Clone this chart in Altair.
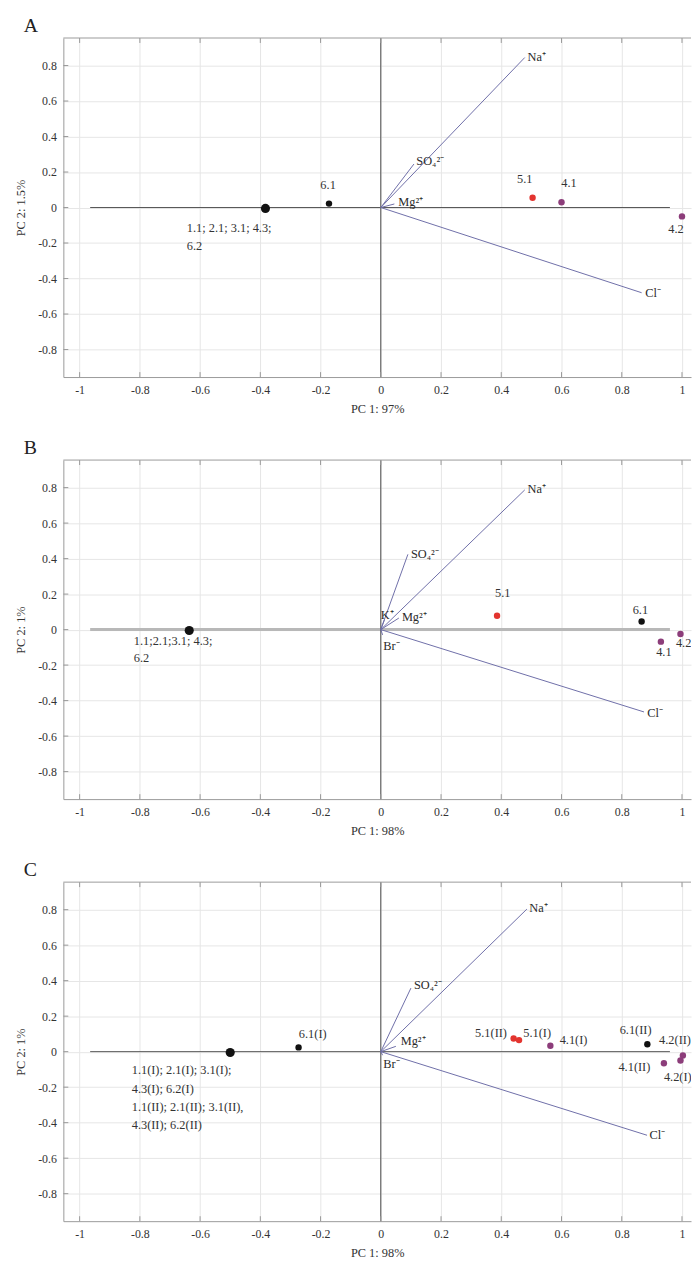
import altair as alt
import pandas as pd

# ---------------- data ----------------
x_ticks = [-1, -0.8, -0.6, -0.4, -0.2, 0, 0.2, 0.4, 0.6, 0.8, 1]
y_ticks = [-0.8, -0.6, -0.4, -0.2, 0, 0.2, 0.4, 0.6, 0.8]

# Panel A
a_pt_x = [-0.383, -0.172, 0.504, 0.600, 1.000]
a_pt_y = [-0.005, 0.022, 0.055, 0.030, -0.050]
a_pt_grp = ["black", "black", "red", "purple", "purple"]
a_pt_big = [True, False, False, False, False]
a_lab_txt = ["6.1", "5.1", "4.1", "4.2", "1.1; 2.1; 3.1; 4.3;", "6.2"]
a_lab_x = [-0.175, 0.478, 0.625, 0.980, -0.644, -0.644]
a_lab_y = [0.124, 0.160, 0.140, -0.120, -0.117, -0.217]
a_lab_al = ["center", "center", "center", "center", "left", "left"]
a_vec_name = ["Na⁺", "SO₄²⁻", "Mg²⁺", "Cl⁻"]
a_vec_x = [0.478, 0.110, 0.045, 0.866]
a_vec_y = [0.845, 0.245, 0.020, -0.480]
a_vlab_x = [0.487, 0.118, 0.058, 0.878]
a_vlab_y = [0.850, 0.262, 0.030, -0.482]

# Panel B
b_pt_x = [-0.636, 0.386, 0.866, 0.930, 0.995]
b_pt_y = [-0.005, 0.078, 0.046, -0.068, -0.025]
b_pt_grp = ["black", "red", "black", "purple", "purple"]
b_pt_big = [True, False, False, False, False]
b_lab_txt = ["5.1", "6.1", "4.1", "4.2", "1.1;2.1;3.1; 4.3;", "6.2"]
b_lab_x = [0.405, 0.862, 0.940, 0.980, -0.820, -0.820]
b_lab_y = [0.205, 0.110, -0.128, -0.076, -0.063, -0.161]
b_lab_al = ["center", "center", "center", "left", "left", "left"]
b_vec_name = ["Na⁺", "SO₄²⁻", "K⁺", "Mg²⁺", "Br⁻", "Cl⁻"]
b_vec_x = [0.478, 0.090, 0.012, 0.060, 0.006, 0.874]
b_vec_y = [0.787, 0.424, 0.055, 0.065, -0.030, -0.464]
b_vlab_x = [0.487, 0.100, 0.000, 0.070, 0.008, 0.885]
b_vlab_y = [0.792, 0.428, 0.080, 0.072, -0.092, -0.468]

# Panel C
c_pt_x = [-0.500, -0.273, 0.441, 0.459, 0.563, 0.885, 0.940, 1.003, 0.995]
c_pt_y = [-0.005, 0.024, 0.074, 0.065, 0.033, 0.042, -0.065, -0.022, -0.050]
c_pt_grp = ["black", "black", "red", "red", "purple", "black", "purple", "purple", "purple"]
c_pt_big = [True, False, False, False, False, False, False, False, False]
c_lab_txt = ["6.1(I)", "5.1(II)", "5.1(I)", "4.1(I)", "6.1(II)", "4.2(II)", "4.1(II)", "4.2(I)",
             "1.1(I); 2.1(I); 3.1(I);", "4.3(I); 6.2(I)",
             "1.1(II); 2.1(II); 3.1(II),", "4.3(II); 6.2(II)"]
c_lab_x = [-0.226, 0.366, 0.519, 0.640, 0.846, 0.924, 0.842, 0.940,
           -0.827, -0.827, -0.827, -0.827]
c_lab_y = [0.098, 0.107, 0.107, 0.068, 0.124, 0.065, -0.087, -0.143,
           -0.106, -0.208, -0.310, -0.412]
c_lab_al = ["center", "center", "center", "center", "center", "left", "center", "left",
            "left", "left", "left", "left"]
c_vec_name = ["Na⁺", "SO₄²⁻", "Mg²⁺", "Br⁻", "Cl⁻"]
c_vec_x = [0.485, 0.100, 0.050, 0.006, 0.884]
c_vec_y = [0.803, 0.358, 0.030, -0.020, -0.471]
c_vlab_x = [0.493, 0.110, 0.066, 0.008, 0.892]
c_vlab_y = [0.808, 0.378, 0.057, -0.070, -0.472]

# zero line extents
hline_x = [-0.965, 0.960]
origin = [0]

# ---------------- styling ----------------
W, H = 635, 343
X_DOMAIN = [-1.054, 1.03]
Y_DOMAIN = [-0.955, 0.955]
FONT = "Liberation Serif"
FRAME = "#9a9a9a"
VEC = "#6e6ea8"
COLORS = {"black": "#111111", "red": "#e3342f", "purple": "#8c3d7a"}


def panel(letter, xtitle, ytitle, pt, lab, vec, vlab, hstyle):
    xs = alt.Scale(domain=X_DOMAIN, nice=False, zero=False)
    ys = alt.Scale(domain=Y_DOMAIN, nice=False, zero=False)
    xax = alt.Axis(values=x_ticks, title=xtitle, grid=True, ticks=False,
                   labelExpr="'' + datum.value", labelPadding=8, titlePadding=7)
    yax = alt.Axis(values=y_ticks, title=ytitle, grid=True, ticks=False,
                   labelExpr="'' + datum.value", labelPadding=7, titlePadding=10)

    def X(f):
        return alt.X(f, scale=xs, axis=xax)

    def Y(f):
        return alt.Y(f, scale=ys, axis=yax)

    hdf = pd.DataFrame({"x": [hline_x[0]], "x2": [hline_x[1]], "y": [0]})
    hl = alt.Chart(hdf).mark_rule(color=hstyle[0], strokeWidth=hstyle[1]).encode(
        x=X("x:Q"), x2="x2:Q", y=Y("y:Q"))
    vl = alt.Chart(pd.DataFrame({"x": origin})).mark_rule(color="#4a4a4a", strokeWidth=1).encode(
        x=X("x:Q"), y=alt.value(0), y2=alt.value(H))
    top = alt.Chart(pd.DataFrame({"x": origin})).mark_rule(color=FRAME, strokeWidth=1).encode(
        x=alt.value(0), x2=alt.value(W), y=alt.value(0))
    tb = alt.Chart(pd.DataFrame({"t": x_ticks})).mark_rule(color=FRAME).encode(
        x=X("t:Q"), y=alt.value(H), y2=alt.value(H - 5))
    tt = alt.Chart(pd.DataFrame({"t": x_ticks})).mark_rule(color=FRAME).encode(
        x=X("t:Q"), y=alt.value(0), y2=alt.value(5))
    tl = alt.Chart(pd.DataFrame({"t": y_ticks})).mark_rule(color=FRAME).encode(
        y=Y("t:Q"), x=alt.value(0), x2=alt.value(5))

    vdf = pd.DataFrame({"x0": [0] * len(vec[0]), "y0": [0] * len(vec[0]),
                        "x": vec[1], "y": vec[2]})
    vr = alt.Chart(vdf).mark_rule(color=VEC, strokeWidth=1).encode(
        x=X("x0:Q"), y=Y("y0:Q"), x2="x:Q", y2="y:Q")
    vldf = pd.DataFrame({"t": vec[0], "x": vlab[0], "y": vlab[1]})
    vt = alt.Chart(vldf).mark_text(font=FONT, fontSize=12.5, color="#2a2a2a", align="left",
                                   baseline="middle", clip=True).encode(
        x=X("x:Q"), y=Y("y:Q"), text="t:N")

    pdf = pd.DataFrame({"x": pt[0], "y": pt[1],
                        "c": [COLORS[g] for g in pt[2]],
                        "s": [85 if b else 42 for b in pt[3]]})
    pts = alt.Chart(pdf).mark_circle(opacity=1).encode(
        x=X("x:Q"), y=Y("y:Q"),
        color=alt.Color("c:N", scale=None), size=alt.Size("s:Q", scale=None))

    ldf = pd.DataFrame({"t": lab[0], "x": lab[1], "y": lab[2], "a": lab[3]})
    texts = []
    for al in ["left", "center"]:
        sub = ldf[ldf["a"] == al]
        if len(sub):
            texts.append(alt.Chart(sub).mark_text(font=FONT, fontSize=12.5, color="#333333",
                                                  align=al, baseline="middle", clip=True).encode(
                x=X("x:Q"), y=Y("y:Q"), text="t:N"))

    return alt.layer(hl, vl, top, tb, tt, tl, vr, vt, pts, *texts).properties(
        width=W, height=H,
        title=alt.TitleParams(letter, anchor="start", frame="group", dx=-40, offset=2,
                              fontSize=20, font=FONT, fontWeight="normal", color="#222222"))


pa = panel("A", "PC 1: 97%", "PC 2: 1.5%",
           (a_pt_x, a_pt_y, a_pt_grp, a_pt_big),
           (a_lab_txt, a_lab_x, a_lab_y, a_lab_al),
           (a_vec_name, a_vec_x, a_vec_y), (a_vlab_x, a_vlab_y), ("#555555", 1))
pb = panel("B", "PC 1: 98%", "PC 2: 1%",
           (b_pt_x, b_pt_y, b_pt_grp, b_pt_big),
           (b_lab_txt, b_lab_x, b_lab_y, b_lab_al),
           (b_vec_name, b_vec_x, b_vec_y), (b_vlab_x, b_vlab_y), ("#b8b8b8", 3))
pc = panel("C", "PC 1: 98%", "PC 2: 1%",
           (c_pt_x, c_pt_y, c_pt_grp, c_pt_big),
           (c_lab_txt, c_lab_x, c_lab_y, c_lab_al),
           (c_vec_name, c_vec_x, c_vec_y), (c_vlab_x, c_vlab_y), ("#555555", 1))

chart = alt.vconcat(pa, pb, pc, spacing=22).properties(
    padding={"left": 7, "top": 0, "right": 0, "bottom": 0}
).configure_view(stroke=None).configure_axis(
    labelFont=FONT, titleFont=FONT, labelFontSize=12, titleFontSize=12.5,
    labelColor="#333333", titleColor="#333333", titleFontWeight="normal",
    gridColor="#e6e6e6", gridWidth=1, domainColor=FRAME, domainWidth=1,
)

chart.save("out.html", embed_options={"renderer": "svg", "actions": False})
